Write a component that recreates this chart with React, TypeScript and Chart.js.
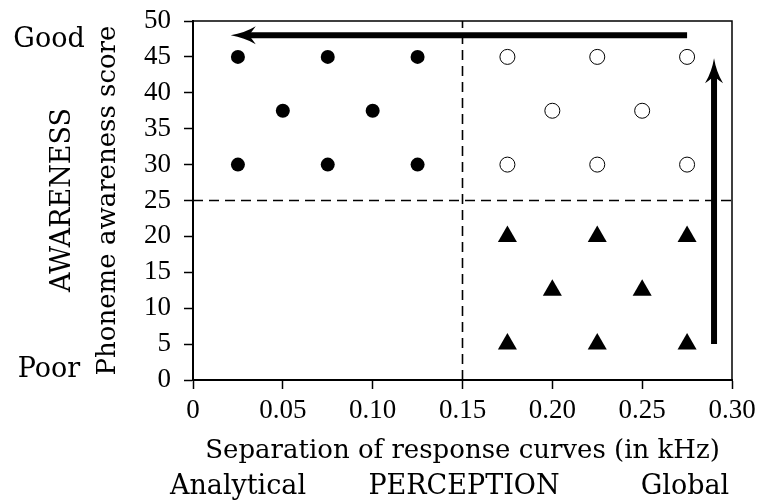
import React, { useEffect, useRef } from "react";
import { Chart, registerables } from "chart.js";

Chart.register(...registerables);

// ---- data ----
const filledX = [0.025, 0.075, 0.125, 0.05, 0.1, 0.025, 0.075, 0.125];
const filledY = [45, 45, 45, 37.5, 37.5, 30, 30, 30];
const openX = [0.175, 0.225, 0.275, 0.2, 0.25, 0.175, 0.225, 0.275];
const openY = [45, 45, 45, 37.5, 37.5, 30, 30, 30];
const triX = [0.175, 0.225, 0.275, 0.2, 0.25, 0.175, 0.225, 0.275];
const triY = [20, 20, 20, 12.5, 12.5, 5, 5, 5];

const xTickValues = [0, 0.05, 0.1, 0.15, 0.2, 0.25, 0.3];
const xTickLabels = ["0", "0.05", "0.10", "0.15", "0.20", "0.25", "0.30"];
const yTickValues = [0, 5, 10, 15, 20, 25, 30, 35, 40, 45, 50];
const yTickLabels = ["0", "5", "10", "15", "20", "25", "30", "35", "40", "45", "50"];

const dividerX = 0.15;
const dividerY = 25;

// arrows: [start, tip]
const arrowHoriz = [
  { x: 0.275, y: 48 },
  { x: 0.021, y: 48 },
];
const arrowVert = [
  { x: 0.29, y: 5 },
  { x: 0.29, y: 44.8 },
];

const xTitle = "Separation of response curves (in kHz)";
const yTitle = "Phoneme awareness score";
const yCategoryLabel = "AWARENESS";
const yEndLabels = ["Good", "Poor"];
const xCategoryLabel = "PERCEPTION";
const xEndLabels = ["Analytical", "Global"];

const TEXT_FONT = "'DejaVu Serif', serif";
const TICK_FONT = "'Liberation Serif', serif";

const toPts = (xs: number[], ys: number[]) => xs.map((x, i) => ({ x, y: ys[i] }));

function drawArrow(ctx: CanvasRenderingContext2D, x0: number, y0: number, x1: number, y1: number) {
  const dx = x1 - x0;
  const dy = y1 - y0;
  const len = Math.hypot(dx, dy);
  const ux = dx / len;
  const uy = dy / len;
  const px = -uy;
  const py = ux;
  const L = 25;
  const W = 9;
  const notch = 18;
  ctx.save();
  ctx.strokeStyle = "#000";
  ctx.lineWidth = 6;
  ctx.lineCap = "butt";
  ctx.beginPath();
  ctx.moveTo(x0, y0);
  ctx.lineTo(x1 - ux * (notch - 1), y1 - uy * (notch - 1));
  ctx.stroke();
  const bx1 = x1 - ux * L + px * W;
  const by1 = y1 - uy * L + py * W;
  const bx2 = x1 - ux * L - px * W;
  const by2 = y1 - uy * L - py * W;
  const nx = x1 - ux * notch;
  const ny = y1 - uy * notch;
  ctx.fillStyle = "#000";
  ctx.beginPath();
  ctx.moveTo(x1, y1);
  ctx.quadraticCurveTo(x1 - ux * L * 0.55 + px * W * 0.25, y1 - uy * L * 0.55 + py * W * 0.25, bx1, by1);
  ctx.quadraticCurveTo(x1 - ux * (notch + 2) + px * 2, y1 - uy * (notch + 2) + py * 2, nx, ny);
  ctx.quadraticCurveTo(x1 - ux * (notch + 2) - px * 2, y1 - uy * (notch + 2) - py * 2, bx2, by2);
  ctx.quadraticCurveTo(x1 - ux * L * 0.55 - px * W * 0.25, y1 - uy * L * 0.55 - py * W * 0.25, x1, y1);
  ctx.closePath();
  ctx.fill();
  ctx.restore();
}

const decorPlugin = {
  id: "decor",
  afterDatasetsDraw(chart: any) {
    const { ctx, chartArea, scales } = chart;
    const xs = scales.x;
    const ys = scales.y;
    ctx.save();
    ctx.strokeStyle = "#000";
    ctx.lineWidth = 1.5;
    ctx.beginPath();
    ctx.moveTo(chartArea.left, chartArea.top);
    ctx.lineTo(chartArea.right, chartArea.top);
    ctx.lineTo(chartArea.right, chartArea.bottom);
    ctx.stroke();
    ctx.restore();

    drawArrow(
      ctx,
      xs.getPixelForValue(arrowHoriz[0].x),
      ys.getPixelForValue(arrowHoriz[0].y),
      xs.getPixelForValue(arrowHoriz[1].x),
      ys.getPixelForValue(arrowHoriz[1].y)
    );
    drawArrow(
      ctx,
      xs.getPixelForValue(arrowVert[0].x),
      ys.getPixelForValue(arrowVert[0].y),
      xs.getPixelForValue(arrowVert[1].x),
      ys.getPixelForValue(arrowVert[1].y)
    );
  },
  afterDraw(chart: any) {
    const { ctx } = chart;
    ctx.save();
    ctx.fillStyle = "#000";
    ctx.font = `27px ${TEXT_FONT}`;
    ctx.textBaseline = "alphabetic";
    ctx.textAlign = "center";
    ctx.fillText(yEndLabels[0], 49, 47);
    ctx.fillText(yEndLabels[1], 49, 377);
    ctx.fillText(xEndLabels[0], 238, 494);
    ctx.fillText(xCategoryLabel, 464, 494);
    ctx.fillText(xEndLabels[1], 685, 494);
    ctx.save();
    ctx.translate(70, 200);
    ctx.rotate(-Math.PI / 2);
    ctx.fillText(yCategoryLabel, 0, 0);
    ctx.restore();
    ctx.restore();
  },
};

export default function App() {
  const canvasRef = useRef<HTMLCanvasElement | null>(null);

  useEffect(() => {
    document.body.style.margin = "0";
    const canvas = canvasRef.current;
    if (!canvas) return;
    const chart = new Chart(canvas, {
      type: "scatter",
      data: {
        datasets: [
          {
            label: "divider-x",
            data: [
              { x: dividerX, y: 0 },
              { x: dividerX, y: 50 },
            ],
            showLine: true,
            borderColor: "#000",
            borderWidth: 1.6,
            borderDash: [10, 6],
            pointRadius: 0,
            order: 5,
          },
          {
            label: "divider-y",
            data: [
              { x: 0, y: dividerY },
              { x: 0.3, y: dividerY },
            ],
            showLine: true,
            borderColor: "#000",
            borderWidth: 1.6,
            borderDash: [10, 6],
            pointRadius: 0,
            order: 5,
          },
          {
            label: "filled",
            data: toPts(filledX, filledY),
            pointStyle: "circle",
            pointRadius: 7,
            backgroundColor: "#000",
            borderColor: "#000",
            borderWidth: 0,
            order: 1,
          },
          {
            label: "open",
            data: toPts(openX, openY),
            pointStyle: "circle",
            pointRadius: 7.5,
            backgroundColor: "#fff",
            borderColor: "#000",
            borderWidth: 1,
            order: 1,
          },
          {
            label: "triangle",
            data: toPts(triX, triY),
            pointStyle: "triangle",
            pointRadius: 11,
            backgroundColor: "#000",
            borderColor: "#000",
            borderWidth: 0,
            order: 1,
          },
        ],
      },
      options: {
        animation: false,
        responsive: false,
        maintainAspectRatio: false,
        layout: { padding: { left: 93, right: 28, top: 21, bottom: 0 } },
        plugins: {
          legend: { display: false },
          tooltip: { enabled: false },
          title: { display: false },
        },
        scales: {
          x: {
            type: "linear",
            min: 0,
            max: 0.3,
            afterBuildTicks: (scale: any) => {
              scale.ticks = xTickValues.map((v) => ({ value: v }));
            },
            afterFit: (scale: any) => {
              scale.height = 124;
              scale.paddingLeft = 0;
              scale.paddingRight = 0;
            },
            ticks: {
              callback: (_v: any, i: number) => xTickLabels[i],
              color: "#000",
              font: { family: TICK_FONT, size: 27 },
              padding: 6,
              maxRotation: 0,
              autoSkip: false,
            },
            grid: {
              drawOnChartArea: false,
              drawTicks: true,
              tickLength: 9,
              tickWidth: 1.5,
              color: "#000",
            },
            border: { display: true, color: "#000", width: 2 },
            title: {
              display: true,
              text: xTitle,
              color: "#000",
              font: { family: TEXT_FONT, size: 26 },
              padding: { top: 0, bottom: 37 },
            },
          },
          y: {
            type: "linear",
            min: 0,
            max: 50,
            afterBuildTicks: (scale: any) => {
              scale.ticks = yTickValues.map((v) => ({ value: v }));
            },
            afterFit: (scale: any) => {
              scale.width = 100;
              scale.paddingTop = 0;
              scale.paddingBottom = 0;
            },
            ticks: {
              callback: (_v: any, i: number) => yTickLabels[i],
              color: "#000",
              font: { family: TICK_FONT, size: 27 },
              padding: 13,
              autoSkip: false,
            },
            grid: {
              drawOnChartArea: false,
              drawTicks: true,
              tickLength: 9,
              tickWidth: 1.5,
              color: "#000",
            },
            border: { display: true, color: "#000", width: 2 },
            title: {
              display: true,
              text: yTitle,
              color: "#000",
              font: { family: TEXT_FONT, size: 26 },
              padding: { top: 0, bottom: 0 },
            },
          },
        },
      },
      plugins: [decorPlugin],
    });
    return () => chart.destroy();
  }, []);

  return (
    <div style={{ width: 760, height: 504, background: "#fff" }}>
      <canvas ref={canvasRef} width={760} height={504} style={{ display: "block" }} />
    </div>
  );
}
